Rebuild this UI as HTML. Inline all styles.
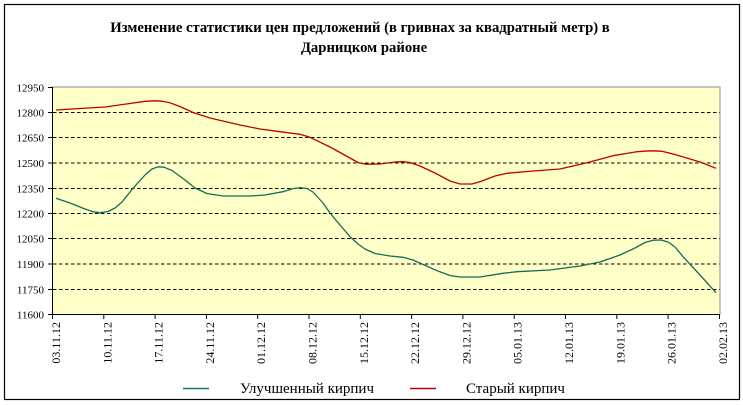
<!DOCTYPE html>
<html><head><meta charset="utf-8"><style>
html,body{margin:0;padding:0;background:#fff;}
svg{display:block;}
text{font-family:"Liberation Serif","DejaVu Serif",serif;}
</style></head><body>
<svg width="743" height="405" viewBox="0 0 743 405" xmlns="http://www.w3.org/2000/svg">
<rect x="0" y="0" width="743" height="405" fill="#fff"/>
<rect x="4.5" y="4.5" width="735" height="395" fill="#fff" stroke="#000" stroke-width="1.2"/>
<text x="360" y="32" text-anchor="middle" font-size="14.7" font-weight="bold" fill="#000">Изменение статистики цен предложений (в гривнах за квадратный метр) в</text>
<text x="364" y="52" text-anchor="middle" font-size="14.7" font-weight="bold" fill="#000">Дарницком районе</text>
<rect x="52.5" y="87" width="667.5" height="227.5" fill="#FFFFC8" stroke="#8a8a8a" stroke-width="1"/>
<g stroke="#000" stroke-width="1" stroke-dasharray="3.5,2.5">
<line x1="53" y1="112.5" x2="719.5" y2="112.5"/>
<line x1="53" y1="137.5" x2="719.5" y2="137.5"/>
<line x1="53" y1="163" x2="719.5" y2="163"/>
<line x1="53" y1="188.5" x2="719.5" y2="188.5"/>
<line x1="53" y1="213.5" x2="719.5" y2="213.5"/>
<line x1="53" y1="238.5" x2="719.5" y2="238.5"/>
<line x1="53" y1="264" x2="719.5" y2="264"/>
<line x1="53" y1="289.5" x2="719.5" y2="289.5"/>
</g>
<g stroke="#000" stroke-width="1">
<line x1="52.5" y1="87" x2="52.5" y2="315"/>
<line x1="52.5" y1="314.5" x2="720" y2="314.5"/>
<line x1="48" y1="87.5" x2="52.5" y2="87.5"/>
<line x1="48" y1="112.5" x2="52.5" y2="112.5"/>
<line x1="48" y1="137.5" x2="52.5" y2="137.5"/>
<line x1="48" y1="163" x2="52.5" y2="163"/>
<line x1="48" y1="188.5" x2="52.5" y2="188.5"/>
<line x1="48" y1="213.5" x2="52.5" y2="213.5"/>
<line x1="48" y1="238.5" x2="52.5" y2="238.5"/>
<line x1="48" y1="264" x2="52.5" y2="264"/>
<line x1="48" y1="289.5" x2="52.5" y2="289.5"/>
<line x1="48" y1="314.5" x2="52.5" y2="314.5"/>
<line x1="52.5" y1="314.5" x2="52.5" y2="319"/>
<line x1="103.8" y1="314.5" x2="103.8" y2="319"/>
<line x1="155.1" y1="314.5" x2="155.1" y2="319"/>
<line x1="206.4" y1="314.5" x2="206.4" y2="319"/>
<line x1="257.7" y1="314.5" x2="257.7" y2="319"/>
<line x1="309" y1="314.5" x2="309" y2="319"/>
<line x1="360.3" y1="314.5" x2="360.3" y2="319"/>
<line x1="411.6" y1="314.5" x2="411.6" y2="319"/>
<line x1="462.9" y1="314.5" x2="462.9" y2="319"/>
<line x1="514.2" y1="314.5" x2="514.2" y2="319"/>
<line x1="565.5" y1="314.5" x2="565.5" y2="319"/>
<line x1="616.8" y1="314.5" x2="616.8" y2="319"/>
<line x1="668.1" y1="314.5" x2="668.1" y2="319"/>
<line x1="719.5" y1="314.5" x2="719.5" y2="319"/>
</g>
<g font-size="11" text-anchor="end" fill="#000">
<text x="44" y="91.5">12950</text>
<text x="44" y="116.5">12800</text>
<text x="44" y="141.5">12650</text>
<text x="44" y="167">12500</text>
<text x="44" y="192.5">12350</text>
<text x="44" y="217.5">12200</text>
<text x="44" y="242.5">12050</text>
<text x="44" y="268">11900</text>
<text x="44" y="293.5">11750</text>
<text x="44" y="318.5">11600</text>
</g>
<g font-size="12" text-anchor="end" fill="#000">
<text transform="translate(60,322) rotate(-90)">03.11.12</text>
<text transform="translate(111.3,322) rotate(-90)">10.11.12</text>
<text transform="translate(162.6,322) rotate(-90)">17.11.12</text>
<text transform="translate(213.9,322) rotate(-90)">24.11.12</text>
<text transform="translate(265.2,322) rotate(-90)">01.12.12</text>
<text transform="translate(316.5,322) rotate(-90)">08.12.12</text>
<text transform="translate(367.8,322) rotate(-90)">15.12.12</text>
<text transform="translate(419.1,322) rotate(-90)">22.12.12</text>
<text transform="translate(470.4,322) rotate(-90)">29.12.12</text>
<text transform="translate(521.7,322) rotate(-90)">05.01.13</text>
<text transform="translate(573,322) rotate(-90)">12.01.13</text>
<text transform="translate(624.3,322) rotate(-90)">19.01.13</text>
<text transform="translate(675.6,322) rotate(-90)">26.01.13</text>
<text transform="translate(727,322) rotate(-90)">02.02.13</text>
</g>
<polyline fill="none" stroke="#C00000" stroke-width="1.3" stroke-linejoin="round" points="56,110 80,108.5 105,107 130,103.5 145,101.3 155,100.8 162,101.2 170,102.8 180,106.5 193,112.5 210,118 240,125 260,129 280,131.7 300,134.3 310,137.3 330,147 350,158 358,162.5 366,164.2 380,164 395,162 403,161.7 410,162.5 420,166 435,173 450,181 460,184 472,184 482,181 495,176 507,173.3 533,171 560,169 587,162.7 613,155.7 637,151.7 650,150.8 662,151.2 675,154.5 690,159 700,162 716,168.3"/>
<polyline fill="none" stroke="#156B55" stroke-width="1.3" stroke-linejoin="round" points="56,198.3 70,203 85,209 93,211.8 100,212.7 108,211.5 115,208 122,202 133,188.3 145,175 152,169 158,166.8 164,167.2 172,170.5 185,180 195,188 207,193.5 223,196 250,196 265,195 283,191.7 293,188.6 300,187.6 307,188.5 313,192 323,203 330,213 340,225 350,236.7 358,244 365,249 375,253.5 390,256 403,257.3 413,260 437,270.7 450,275.5 460,277 480,277 503,273.3 517,271.7 550,270 580,266 600,262 620,255 635,248 645,242.5 653,240.2 661,240 668,242 675,247 683,256.7 700,275 716,292.7"/>
<line x1="183" y1="388.5" x2="209" y2="388.5" stroke="#0E7A70" stroke-width="1.5"/>
<text x="240" y="393" font-size="15" fill="#000">Улучшенный кирпич</text>
<line x1="410" y1="388.5" x2="436" y2="388.5" stroke="#C00000" stroke-width="1.5"/>
<text x="466" y="393" font-size="15" fill="#000">Старый кирпич</text>
</svg>
</body></html>
